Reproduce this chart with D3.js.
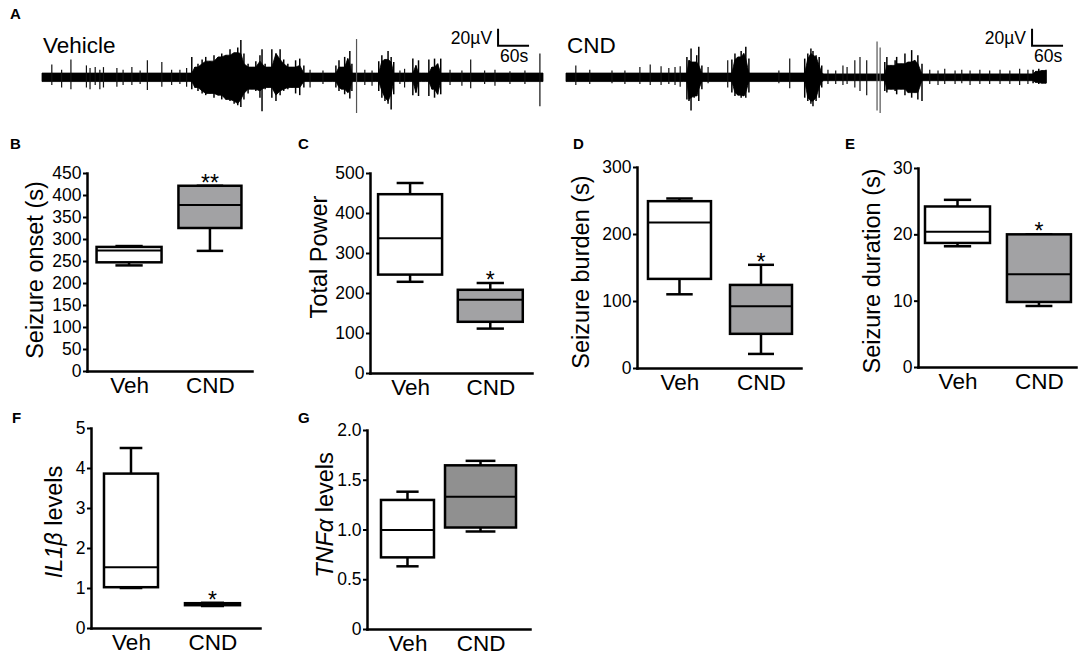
<!DOCTYPE html>
<html>
<head>
<meta charset="utf-8">
<script src="https://cdn.jsdelivr.net/npm/d3@7"></script>
<style>
  html, body { margin: 0; padding: 0; background: #fff; }
  svg { display: block; font-family: "Liberation Sans", Arial, Helvetica, sans-serif; }
</style>
</head>
<body>
<svg id="fig" width="1084" height="655"></svg>
<script>
// ---- panel A: EEG envelopes, [time s, up µV, down µV] ----
const vehDuration = 970;
const cndDuration = 929;
const vehEnvelope = [
  [0, 5, 5],
  [283, 5, 5], [290, 24, 14], [296, 12, 12], [302, 16, 16], [310, 21, 19], [317, 24, 21], [325, 19, 19],
  [333, 26, 24], [341, 24, 21], [348, 28, 26], [356, 26, 26], [364, 33, 28], [372, 29, 31], [379, 35, 33],
  [385, 44, 35], [391, 28, 26], [399, 16, 19], [406, 12, 14], [414, 19, 16], [422, 26, 24], [426, 33, 40],
  [432, 16, 14], [437, 12, 12], [445, 33, 24], [453, 28, 28], [461, 33, 21], [468, 21, 16], [476, 16, 14],
  [484, 12, 12], [491, 20, 19], [499, 22, 21], [507, 14, 12], [513, 5, 5],
  [563, 5, 5], [569, 14, 12], [575, 20, 16], [580, 12, 14], [586, 24, 20], [592, 22, 18], [596, 31, 25],
  [600, 16, 16], [604, 5, 5],
  [646, 5, 5], [652, 19, 16], [658, 26, 24], [664, 21, 28], [670, 31, 31], [676, 24, 38], [681, 18, 20], [687, 5, 5],
  [712, 5, 5], [718, 22, 21], [724, 14, 18], [729, 20, 22], [735, 5, 5],
  [743, 5, 5], [749, 21, 22], [755, 12, 14], [760, 22, 24], [766, 16, 20], [772, 22, 20], [778, 5, 5],
  [970, 5, 5]
];
const vehSpikes = [
  [19, 15, 9], [38, 9, 12], [56, 21, 14], [86, 14, 12], [93, 11, 14], [103, 12, 9], [112, 9, 14],
  [119, 12, 12], [145, 11, 11], [157, 9, 9], [174, 12, 9], [190, 8, 8], [204, 20, 15], [232, 18, 11],
  [251, 9, 9], [267, 9, 8], [280, 11, 11], [519, 9, 12], [544, 8, 8], [609, 45, 42], [625, 9, 9],
  [639, 8, 10], [693, 8, 8], [702, 10, 12], [790, 9, 9], [813, 8, 10], [830, 21, 13], [857, 8, 8],
  [877, 9, 10], [906, 7, 8], [935, 8, 8], [964, 28, 34]
];
const cndEnvelope = [
  [0, 6, 6], [200, 5, 5],
  [228, 5, 5], [234, 24, 26], [238, 20, 28], [242, 34, 39], [248, 18, 24], [253, 26, 22], [257, 36, 28],
  [263, 14, 14], [267, 5, 5],
  [315, 5, 5], [321, 21, 18], [327, 28, 22], [333, 24, 21], [339, 31, 24], [344, 28, 22], [348, 36, 24],
  [354, 22, 18], [360, 5, 5],
  [457, 5, 5], [462, 22, 24], [468, 28, 28], [474, 34, 31], [478, 31, 34], [484, 26, 28], [490, 24, 24],
  [495, 14, 12], [499, 5, 5],
  [611, 4, 4], [617, 18, 16], [621, 24, 18], [629, 14, 14], [637, 20, 16], [640, 24, 20], [648, 16, 14],
  [656, 28, 21], [662, 18, 18], [669, 32, 24], [675, 20, 18], [681, 26, 26], [689, 16, 28], [695, 4, 4],
  [898, 4, 4], [904, 9, 7], [909, 7, 6], [915, 10, 8], [921, 8, 7], [929, 9, 7]
];
const cndSpikes = [
  [19, 14, 9], [46, 9, 8], [89, 8, 7], [114, 8, 8], [143, 12, 8], [163, 15, 9], [184, 13, 9], [199, 11, 8],
  [211, 12, 9], [221, 13, 11], [275, 12, 7], [313, 20, 12], [412, 8, 7], [433, 22, 13], [507, 9, 8],
  [522, 8, 8], [536, 14, 9], [544, 12, 8], [559, 20, 12], [569, 24, 16], [582, 20, 21], [602, 42, 39],
  [608, 35, 42], [704, 9, 8], [720, 8, 9], [733, 10, 8], [753, 8, 8], [766, 9, 7], [782, 8, 9],
  [801, 9, 8], [820, 8, 8], [840, 9, 8], [859, 8, 8], [878, 10, 9], [894, 9, 8]
];

// ---- box plots: [min, q1, median, q3, max] ----
const groups = ['Veh', 'CND'];
const onsetVeh = [240, 247, 274, 282, 284];
const onsetCnd = [273, 325, 377, 421, 421];
const powerVeh = [228, 246, 337, 447, 475];
const powerCnd = [111, 128, 183, 208, 225];
const burdenVeh = [110, 133, 217, 249, 253];
const burdenCnd = [21, 51, 92, 124, 154];
const durationVeh = [18.2, 18.7, 20.4, 24.2, 25.2];
const durationCnd = [9.2, 9.8, 14.0, 20.0, 20.0];
const il1bVeh = [1.0, 1.02, 1.52, 3.86, 4.5];
const il1bCnd = [0.55, 0.57, 0.6, 0.62, 0.63];
const tnfVeh = [0.63, 0.72, 0.995, 1.297, 1.38];
const tnfCnd = [0.98, 1.02, 1.33, 1.645, 1.69];

const svg = d3.select('#fig');

// ---- panel A ----
function drawTrace(env, spikes, duration, xr, label, barT) {
  const x = d3.scaleLinear().domain([0, duration]).range(xr);
  const y = d3.scaleLinear().domain([-50, 50]).range([77.3 + 42.5, 77.3 - 42.5]);
  const g = svg.append('g');
  // solid core: lowest of each point and its neighbours, peaks drawn as lines
  const core = env.map((d, i) => {
    const nb = env.slice(Math.max(0, i - 1), i + 2);
    return [d[0], d3.min(nb, e => e[1]), d3.min(nb, e => e[2])];
  });
  g.append('path')
    .datum(core)
    .attr('d', d3.area().x(d => x(d[0])).y0(d => y(-d[2])).y1(d => y(d[1])))
    .attr('fill', '#000')
    .attr('stroke', '#000')
    .attr('stroke-width', 0.8);
  g.selectAll('line.peak')
    .data(env.filter(d => d[1] > 6 || d[2] > 6))
    .enter()
    .append('line')
    .attr('class', 'peak')
    .attr('x1', d => x(d[0]))
    .attr('x2', d => x(d[0]))
    .attr('y1', d => y(d[1]))
    .attr('y2', d => y(-d[2]))
    .attr('stroke', '#000')
    .attr('stroke-width', 1.5);
  g.selectAll('line.spike')
    .data(spikes)
    .enter()
    .append('line')
    .attr('class', 'spike')
    .attr('x1', d => x(d[0]))
    .attr('x2', d => x(d[0]))
    .attr('y1', d => y(d[1]))
    .attr('y2', d => y(-d[2]))
    .attr('stroke', d => (d[1] > 30 ? '#555' : '#111'))
    .attr('stroke-width', 1.2);
  g.append('text')
    .attr('x', xr[0] + 1)
    .attr('y', 52.5)
    .attr('font-size', 22.5)
    .text(label);
  // scale bar 20 µV / 60 s
  const bx = x(barT);
  const base = 37;
  g.append('path')
    .attr('d', `M${bx},${y(base + 20)}V${y(base)}H${x(barT + 60)}`)
    .attr('fill', 'none')
    .attr('stroke', '#000')
    .attr('stroke-width', 2);
  g.append('text')
    .attr('x', bx - 6)
    .attr('y', 44)
    .attr('text-anchor', 'end')
    .attr('font-size', 17.5)
    .text('20\u00b5V');
  g.append('text')
    .attr('x', bx + 2)
    .attr('y', 62)
    .attr('font-size', 17.5)
    .text('60s');
}
drawTrace(vehEnvelope, vehSpikes, vehDuration, [42, 543], 'Vehicle', 883);
drawTrace(cndEnvelope, cndSpikes, cndDuration, [566, 1046], 'CND', 902);

// ---- panels B-G ----
const panels = [
  { stats: [onsetVeh, onsetCnd], title: [['Seizure onset (s)', false]], domain: [0, 450], step: 50,
    x0: 87, x1: 252, yTop: 173, yZero: 371, pad: 0.52, align: 0.5, boxW: [65, 63],
    titleX: 43, titleY: 270, sig: '**', fill: '#a2a2a4' },
  { stats: [powerVeh, powerCnd], title: [['Total Power', false]], domain: [0, 500], step: 100,
    x0: 370, x1: 532, yTop: 173, yZero: 373, pad: 0.51, align: 0.49, boxW: [64, 65],
    titleX: 327, titleY: 257, sig: '*', fill: '#a2a2a4' },
  { stats: [burdenVeh, burdenCnd], title: [['Seizure burden (s)', false]], domain: [0, 300], step: 100,
    x0: 637, x1: 801, yTop: 167, yZero: 368, pad: 0.506, align: 0.515, boxW: [63, 62],
    titleX: 589, titleY: 272, sig: '*', fill: '#a2a2a4' },
  { stats: [durationVeh, durationCnd], title: [['Seizure duration (s)', false]], domain: [0, 30], step: 10,
    x0: 918, x1: 1076, yTop: 168, yZero: 367, pad: 0.47, align: 0.516, boxW: [65, 64],
    titleX: 880, titleY: 271, sig: '*', fill: '#a2a2a4' },
  { stats: [il1bVeh, il1bCnd], title: [['IL1\u03b2', true], [' levels', false]], domain: [0, 5], step: 1,
    x0: 91, x1: 260, yTop: 428, yZero: 628, pad: 0.537, align: 0.457, boxW: [54, 55],
    titleX: 62, titleY: 522, sig: '*', fill: '#a2a2a4' },
  { stats: [tnfVeh, tnfCnd], title: [['TNF\u03b1', true], [' levels', false]], domain: [0, 2], step: 0.5,
    x0: 367, x1: 530, yTop: 430, yZero: 629, pad: 0.616, align: 0.45, boxW: [53, 71],
    titleX: 333, titleY: 515, sig: null, fill: '#909090' }
];

const tickFmt = d => (d === 0 ? '0' : Number.isInteger(d) ? String(d) : d3.format('.1f')(d));

panels.forEach(p => {
  const g = svg.append('g');
  const y = d3.scaleLinear().domain(p.domain).range([p.yZero, p.yTop]);
  const x = d3.scalePoint().domain(groups).range([p.x0, p.x1]).padding(p.pad).align(p.align);
  const ticks = d3.range(p.domain[0], p.domain[1] + p.step / 2, p.step);
  const fmt = p.step < 1 ? (d => (d === 0 ? '0' : d3.format('.1f')(d))) : tickFmt;

  const ya = g.append('g')
    .attr('transform', `translate(${p.x0},0)`)
    .call(d3.axisLeft(y).tickValues(ticks).tickFormat(fmt).tickSize(4).tickSizeOuter(0).tickPadding(1.5));
  ya.select('.domain').attr('stroke-width', 2.5).attr('stroke-linecap', 'square');
  ya.selectAll('.tick line').attr('stroke-width', 2);
  ya.selectAll('.tick text').attr('font-size', 17.5).attr('fill', '#000');

  const xa = g.append('g')
    .attr('transform', `translate(0,${p.yZero})`)
    .call(d3.axisBottom(x).tickSize(0).tickSizeOuter(0).tickPadding(6.5));
  xa.select('.domain').attr('stroke-width', 2.5).attr('stroke-linecap', 'square');
  xa.selectAll('.tick text').attr('font-size', 22.5).attr('fill', '#000');
  ya.attr('font-family', null);
  xa.attr('font-family', null);

  const t = g.append('text')
    .attr('transform', `translate(${p.titleX},${p.titleY}) rotate(-90)`)
    .attr('text-anchor', 'middle')
    .attr('font-size', 23.5);
  p.title.forEach(([s, it]) => {
    t.append('tspan').attr('font-style', it ? 'italic' : 'normal').text(s);
  });

  groups.forEach((grp, i) => {
    const [mn, q1, md, q3, mx] = p.stats[i];
    const cx = x(grp);
    const w = p.boxW[i];
    const cap = w * 0.42;
    const b = g.append('g').attr('stroke', '#000').attr('stroke-width', 2.5);
    b.append('line').attr('x1', cx).attr('x2', cx).attr('y1', y(mx)).attr('y2', y(q3));
    b.append('line').attr('x1', cx).attr('x2', cx).attr('y1', y(q1)).attr('y2', y(mn));
    b.append('line').attr('x1', cx - cap / 2).attr('x2', cx + cap / 2).attr('y1', y(mx)).attr('y2', y(mx));
    b.append('line').attr('x1', cx - cap / 2).attr('x2', cx + cap / 2).attr('y1', y(mn)).attr('y2', y(mn));
    b.append('rect')
      .attr('x', cx - w / 2)
      .attr('y', y(q3))
      .attr('width', w)
      .attr('height', y(q1) - y(q3))
      .attr('fill', i === 0 ? '#fff' : p.fill);
    b.append('line').attr('x1', cx - w / 2).attr('x2', cx + w / 2).attr('y1', y(md)).attr('y2', y(md))
      .attr('stroke-width', 2);
    if (i === 1 && p.sig) {
      g.append('text')
        .attr('x', cx)
        .attr('y', y(mx) + 5)
        .attr('text-anchor', 'middle')
        .attr('font-size', 23)
        .text(p.sig);
    }
  });
});

// panel letters
const letters = [['A', 10, 19], ['B', 10, 149], ['C', 298, 149], ['D', 573, 149], ['E', 845, 149], ['F', 12, 423], ['G', 298, 423]];
svg.selectAll('text.letter')
  .data(letters)
  .enter()
  .append('text')
  .attr('class', 'letter')
  .attr('x', d => d[1])
  .attr('y', d => d[2])
  .attr('font-size', 15)
  .attr('font-weight', 'bold')
  .text(d => d[0]);
</script>
</body>
</html>
